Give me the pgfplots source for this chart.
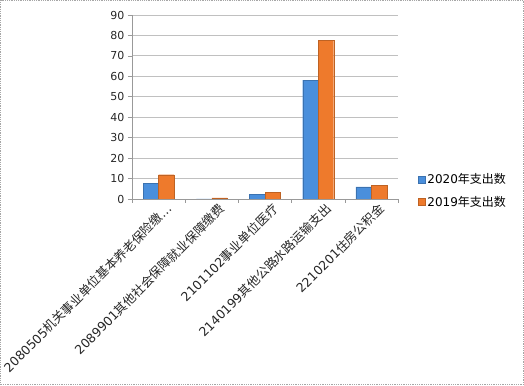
\documentclass[border=0pt]{standalone}
\usepackage{fontspec}
\setmainfont{DejaVu Sans}
\newfontfamily\cjk{Noto Sans CJK SC}
\usepackage{pgfplots}
\pgfplotsset{compat=1.18}
\definecolor{cblue}{HTML}{4A8FDC}
\definecolor{corange}{HTML}{EE7A2C}
\definecolor{gridc}{HTML}{C0C0C0}
\begin{document}
\begin{tikzpicture}[x=1pt,y=1pt]
\useasboundingbox (0,0) rectangle (524,385);
\draw[gray!70, densely dotted, line width=0.8pt] (0.5,0.5) rectangle (523.5,384.5);
\begin{axis}[
  at={(132pt,186pt)}, anchor=south west,
  scale only axis, width=266pt, height=184pt,
  xmin=-0.5, xmax=4.5, ymin=0, ymax=90,
  ytick={0,10,...,90},
  xtick={0,1,2,3,4},
  xticklabels={{2080505{\cjk 机关事业单位基本养老保险缴}…},{2089901{\cjk 其他社会保障就业保障缴费}},{2101102{\cjk 事业单位医疗}},{2140199{\cjk 其他公路水路运输支出}},{2210201{\cjk 住房公积金}}},
  minor xtick={-0.5,0.5,...,4.5},
  major x tick style={draw=none},
  minor tick length=4pt,
  major tick length=4pt,
  tick align=outside,
  tick pos=left,
  tick style={gray!80, line width=0.6pt},
  axis x line*=bottom, axis y line*=left,
  axis line style={gray!80, line width=0.6pt},
  ymajorgrids, grid style={gridc, line width=0.9pt},
  x tick label style={rotate=45, anchor=north east, font=\fontsize{12.5}{13}\selectfont, inner sep=1pt, text=black!85, xshift=6pt, yshift=-3pt},
  y tick label style={font=\fontsize{11}{12}\selectfont, text=black!85},
  /pgf/number format/assume math mode=true,
  ybar, bar width=15.5pt, ybar=0pt,
  legend style={at={(1.075,0.15)}, anchor=north west, draw=none, fill=none, font=\fontsize{12}{13}\selectfont, row sep=7pt, inner sep=0pt},
  legend cell align=left,
  legend image code/.code={\fill[#1] (0pt,-3.5pt) rectangle (7pt,3.5pt);},
]
\addplot[fill=cblue, draw=cblue!80!black, line width=0.3pt] coordinates {(0,7.8) (1,0) (2,2.4) (3,58.2) (4,5.9)};
\addplot[fill=corange, draw=corange!80!black, line width=0.3pt] coordinates {(0,11.9) (1,0.5) (2,3.3) (3,77.6) (4,6.8)};
\legend{2020{\cjk 年支出数},2019{\cjk 年支出数}}
\end{axis}
\end{tikzpicture}
\end{document}
